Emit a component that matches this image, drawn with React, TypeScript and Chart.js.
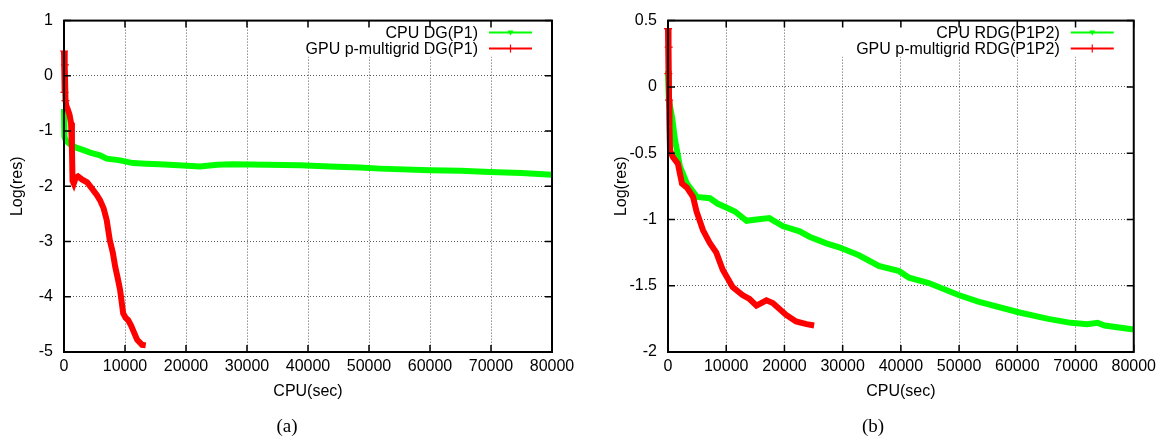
import React, { useEffect, useRef } from "react";
import { Chart, registerables } from "chart.js";

Chart.register(...registerables);

const FONT = "'Liberation Sans', Arial, Helvetica, sans-serif";

// ---- tick labels ----
const xTickValues = [0, 10000, 20000, 30000, 40000, 50000, 60000, 70000, 80000];
const yTickValuesA = [1, 0, -1, -2, -3, -4, -5];
const yTickValuesB = [0.5, 0, -0.5, -1, -1.5, -2];

// ---- panel (a) ----
const cpuA_x = [0, 40, 100, 300, 1000, 2000, 3100, 4300, 5900, 7000, 9200, 11300, 13500, 15700, 20200, 22300, 25100, 27700, 33300, 38700, 43600, 48500, 51800, 60000, 65000, 69800, 75000, 80000];
const cpuA_y = [-0.6, -0.9, -1.1, -1.17, -1.24, -1.3, -1.34, -1.39, -1.44, -1.5, -1.53, -1.58, -1.59, -1.6, -1.63, -1.64, -1.61, -1.6, -1.61, -1.62, -1.64, -1.66, -1.68, -1.71, -1.72, -1.74, -1.76, -1.79];

const gpuA_x = [0, 80, 150, 250, 400, 600, 900, 1150, 1300, 1400, 1600, 1900, 2300, 3000, 3800, 4500, 5400, 5900, 6500, 7000, 7500, 8000, 8400, 8800, 9200, 9700, 10100, 10500, 11000, 11300, 12000, 12800, 13400];
const gpuA_y = [0.45, -0.3, 0.2, -0.45, -0.55, -0.6, -0.7, -0.85, -1.3, -1.9, -1.95, -1.85, -1.82, -1.88, -1.93, -2.03, -2.16, -2.25, -2.4, -2.61, -2.97, -3.2, -3.46, -3.66, -3.88, -4.3, -4.38, -4.42, -4.52, -4.6, -4.78, -4.87, -4.88];

// ---- panel (b) ----
const cpuB_x = [0, 150, 700, 1200, 2050, 3250, 4960, 7200, 8500, 10000, 11500, 13500, 15200, 17400, 19700, 22600, 24300, 27200, 29400, 32800, 36200, 39700, 41400, 44800, 49900, 53300, 60200, 65300, 69200, 72000, 73800, 75000, 80000];
const cpuB_y = [0.12, -0.1, -0.23, -0.4, -0.6, -0.73, -0.83, -0.84, -0.88, -0.91, -0.94, -1.01, -1.0, -0.99, -1.05, -1.09, -1.13, -1.18, -1.21, -1.27, -1.35, -1.39, -1.44, -1.48, -1.57, -1.62, -1.7, -1.75, -1.78, -1.79, -1.78, -1.8, -1.83];

const gpuB_x = [0, 60, 120, 180, 250, 350, 850, 1700, 2400, 3250, 4300, 4900, 6000, 7200, 8300, 9400, 11100, 12800, 14000, 15200, 16900, 18000, 20300, 22000, 23800, 25100];
const gpuB_y = [0.44, 0.1, 0.3, -0.1, -0.3, -0.48, -0.53, -0.58, -0.73, -0.76, -0.83, -0.94, -1.08, -1.18, -1.25, -1.38, -1.51, -1.57, -1.6, -1.65, -1.61, -1.63, -1.72, -1.77, -1.79, -1.8];

const labelsA = ["CPU DG(P1)", "GPU p-multigrid DG(P1)"];
const labelsB = ["CPU RDG(P1P2)", "GPU p-multigrid RDG(P1P2)"];

const GREEN = "#00ff00";
const RED = "#ff0000";

type PanelDef = {
  left: number;
  width: number;
  padRight: number;
  yMin: number;
  yMax: number;
  yTicks: number[];
  cpuX: number[];
  cpuY: number[];
  gpuX: number[];
  gpuY: number[];
  labels: string[];
  caption: string;
  captionX: number;
};

const panels: PanelDef[] = [
  {
    left: 0, width: 580, padRight: 28, yMin: -5, yMax: 1, yTicks: yTickValuesA,
    cpuX: cpuA_x, cpuY: cpuA_y, gpuX: gpuA_x, gpuY: gpuA_y, labels: labelsA,
    caption: "(a)", captionX: 287,
  },
  {
    left: 604, width: 557, padRight: 25, yMin: -2, yMax: 0.5, yTicks: yTickValuesB,
    cpuX: cpuB_x, cpuY: cpuB_y, gpuX: gpuB_x, gpuY: gpuB_y, labels: labelsB,
    caption: "(b)", captionX: 269,
  },
];

function makePlugin(p: PanelDef) {
  return {
    id: "gnuFrame",
    beforeDatasetsDraw(chart: any) {
      const { ctx, chartArea: a } = chart;
      ctx.save();
      ctx.font = `16px ${FONT}`;
      const w = Math.max(...p.labels.map((l) => ctx.measureText(l).width));
      const x0 = a.right - 74 - w - 20;
      ctx.fillStyle = "#ffffff";
      ctx.fillRect(x0, a.top + 1, a.right - x0 - 1, 35);
      ctx.restore();
    },
    afterDraw(chart: any) {
      const { ctx, chartArea: a, scales } = chart;
      const xs = scales.x;
      const ys = scales.y;
      ctx.save();
      // inward tick marks on all sides
      ctx.strokeStyle = "#000";
      ctx.lineWidth = 1.5;
      ctx.beginPath();
      for (const v of xTickValues) {
        const px = xs.getPixelForValue(v);
        ctx.moveTo(px, a.bottom);
        ctx.lineTo(px, a.bottom - 7);
        ctx.moveTo(px, a.top);
        ctx.lineTo(px, a.top + 7);
      }
      for (const v of p.yTicks) {
        const py = ys.getPixelForValue(v);
        ctx.moveTo(a.left, py);
        ctx.lineTo(a.left + 7, py);
        ctx.moveTo(a.right, py);
        ctx.lineTo(a.right - 7, py);
      }
      ctx.stroke();
      // border
      ctx.lineWidth = 2;
      ctx.strokeRect(a.left, a.top, a.right - a.left, a.bottom - a.top);

      // legend
      const colors = [GREEN, RED];
      ctx.font = `16px ${FONT}`;
      ctx.textAlign = "right";
      ctx.textBaseline = "middle";
      p.labels.forEach((lab, i) => {
        const y = a.top + 12 + i * 16;
        ctx.fillStyle = "#000";
        ctx.fillText(lab, a.right - 74, y + 1);
        const sx0 = a.right - 63;
        const sx1 = a.right - 20;
        const cx = (sx0 + sx1) / 2;
        ctx.strokeStyle = colors[i];
        ctx.fillStyle = colors[i];
        ctx.lineWidth = 2;
        ctx.beginPath();
        ctx.moveTo(sx0, y);
        ctx.lineTo(sx1, y);
        ctx.stroke();
        if (i === 0) {
          ctx.beginPath();
          ctx.moveTo(cx - 3, y - 2);
          ctx.lineTo(cx + 3, y - 2);
          ctx.lineTo(cx, y + 3);
          ctx.closePath();
          ctx.fill();
        } else {
          ctx.lineWidth = 1.2;
          ctx.beginPath();
          ctx.moveTo(cx, y - 4);
          ctx.lineTo(cx, y + 4);
          ctx.stroke();
        }
      });

      // caption
      ctx.fillStyle = "#000";
      ctx.font = `19px 'Liberation Serif', 'Times New Roman', serif`;
      ctx.textAlign = "center";
      ctx.textBaseline = "middle";
      ctx.fillText(p.caption, p.captionX, 427);
      ctx.restore();
    },
  };
}

function Panel({ p }: { p: PanelDef }) {
  const ref = useRef<HTMLCanvasElement | null>(null);
  useEffect(() => {
    if (!ref.current) return;
    const cpu = p.cpuX.map((x, i) => ({ x, y: p.cpuY[i] }));
    const gpu = p.gpuX.map((x, i) => ({ x, y: p.gpuY[i] }));
    const chart = new Chart(ref.current, {
      type: "line",
      data: {
        datasets: [
          {
            label: p.labels[0],
            data: cpu,
            borderColor: GREEN,
            backgroundColor: GREEN,
            borderWidth: 6,
            pointRadius: 0,
            tension: 0,
            clip: false as any,
            order: 1,
          },
          {
            label: p.labels[1],
            data: gpu,
            borderColor: RED,
            backgroundColor: RED,
            borderWidth: 6,
            pointStyle: "cross",
            pointRadius: (c: any) => (c.dataIndex < 4 ? 4 : 0),
            pointBorderWidth: 1.2,
            pointBorderColor: RED,
            tension: 0,
            clip: false as any,
            order: 0,
          },
        ],
      },
      options: {
        responsive: false,
        animation: false,
        events: [],
        layout: { padding: { left: 0, right: p.padRight, top: 20, bottom: 0 } },
        plugins: { legend: { display: false }, tooltip: { enabled: false } },
        scales: {
          x: {
            type: "linear",
            min: 0,
            max: 80000,
            afterBuildTicks: (s: any) => {
              s.ticks = xTickValues.map((v) => ({ value: v }));
            },
            afterFit: (s: any) => {
              s.height = 88;
            },
            ticks: {
              autoSkip: false,
              maxRotation: 0,
              padding: 5,
              color: "#000",
              font: { family: FONT, size: 16 },
              callback: (v: any) => String(v),
            },
            grid: { display: true, drawTicks: false, color: "rgba(0,0,0,0.65)", lineWidth: 1 },
            border: { display: false, dash: [1, 2] },
            title: {
              display: true,
              text: "CPU(sec)",
              color: "#000",
              font: { family: FONT, size: 16 },
              padding: { top: 0, bottom: 38.4 },
            },
          },
          y: {
            type: "linear",
            min: p.yMin,
            max: p.yMax,
            afterBuildTicks: (s: any) => {
              s.ticks = p.yTicks.map((v) => ({ value: v }));
            },
            afterFit: (s: any) => {
              s.width = 64;
            },
            ticks: {
              autoSkip: false,
              padding: 11,
              color: "#000",
              font: { family: FONT, size: 16 },
              callback: (v: any) => String(v),
            },
            grid: { display: true, drawTicks: false, color: "rgba(0,0,0,0.65)", lineWidth: 1 },
            border: { display: false, dash: [1, 2] },
            title: {
              display: true,
              text: "Log(res)",
              color: "#000",
              font: { family: FONT, size: 16 },
              padding: { top: 8.4, bottom: 0 },
            },
          },
        },
      },
      plugins: [makePlugin(p)],
    } as any);
    return () => chart.destroy();
  }, [p]);
  return (
    <canvas
      ref={ref}
      width={p.width}
      height={440}
      style={{ position: "absolute", left: p.left, top: 0, width: p.width, height: 440, display: "block" }}
    />
  );
}

export default function App() {
  return (
    <div style={{ position: "absolute", left: 0, top: 0, width: 1161, height: 440, background: "#fff" }}>
      {panels.map((p, i) => (
        <Panel key={i} p={p} />
      ))}
    </div>
  );
}
